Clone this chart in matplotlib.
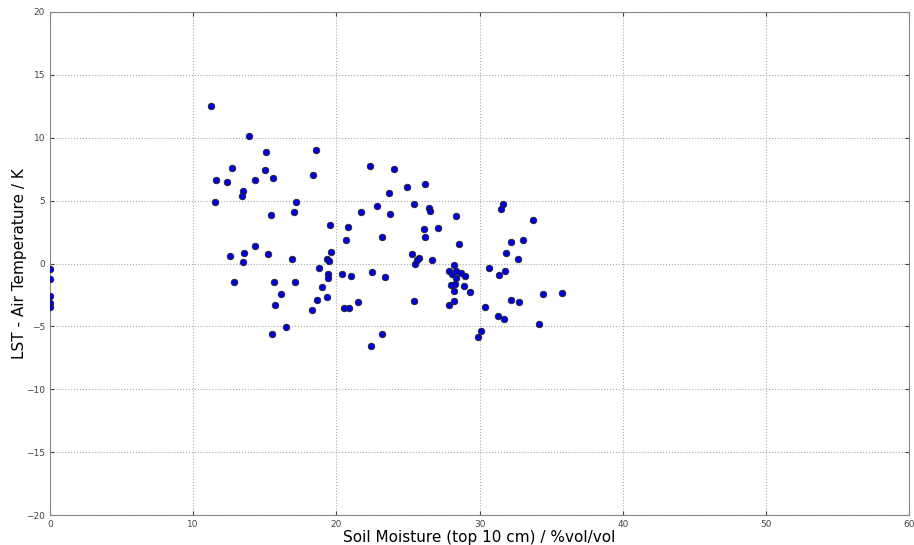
import matplotlib
matplotlib.use('Agg')
import matplotlib.pyplot as plt

# Humidade do solo (%vol/vol) e diferença LST - temperatura do ar (K)
soil_moisture = [
    0.0, 0.0, 0.0, 0.0, 0.0,
    11.26, 11.59, 11.52, 12.71, 12.36, 13.87, 13.48, 13.43, 12.57, 12.85,
    13.55, 13.45, 14.34, 14.31, 15.06, 15.03, 15.57, 15.41, 15.24, 15.62,
    15.73, 15.48, 16.15, 16.48, 16.90, 17.13, 17.06, 17.20, 18.39, 18.60,
    18.79, 18.62, 19.00, 18.32, 19.37, 19.51, 19.53, 19.65, 19.42, 19.39,
    19.37, 20.70, 20.84, 20.42, 21.05, 20.51, 20.89, 21.52, 21.75, 22.36,
    22.50, 22.45, 22.82, 23.17, 23.20, 23.43, 23.71, 23.69, 23.99, 24.90,
    26.22, 25.43, 26.50, 26.57, 27.11, 26.10, 26.17, 25.29, 25.76, 25.64,
    25.48, 26.69, 25.45, 28.32, 28.55, 28.18, 27.85, 28.08, 28.34, 28.67,
    28.95, 28.34, 28.25, 28.03, 28.90, 28.20, 29.34, 28.18, 27.85, 30.07,
    29.86, 30.37, 30.66, 31.38, 31.80, 31.82, 32.22, 33.06, 32.66, 32.19,
    32.78, 31.26, 31.70, 31.66, 31.47, 33.71, 34.45, 35.76, 34.15,
]
lst_minus_air = [
    -0.44, -1.23, -2.56, -3.17, -3.48,
    12.52, 6.64, 4.87, 7.59, 6.46, 10.14, 5.74, 5.34, 0.62, -1.47,
    0.83, 0.12, 1.37, 6.64, 8.87, 7.41, 6.82, 3.88, 0.73, -1.45,
    -3.32, -5.63, -2.40, -5.07, 0.33, -1.45, 4.07, 4.91, 7.01, 9.03,
    -0.33, -2.93, -1.87, -3.72, 0.36, 0.20, 3.06, 0.89, -0.81, -1.15,
    -2.66, 1.84, 2.90, -0.83, -0.99, -3.51, -3.54, -3.06, 4.10, 7.78,
    -0.70, -6.58, 4.55, 2.13, -5.63, -1.07, 3.94, 5.58, 7.49, 6.06,
    6.30, 4.73, 4.44, 4.20, 2.82, 2.72, 2.08, 0.78, 0.44, 0.25,
    -0.04, 0.28, -3.02, 3.75, 1.57, -0.14, -0.60, -0.83, -0.62, -0.78,
    -0.99, -1.13, -1.59, -1.73, -1.81, -2.15, -2.24, -3.02, -3.32, -5.33,
    -5.86, -3.44, -0.36, -0.94, -0.62, 0.83, 1.69, 1.84, 0.36, -2.93,
    -3.06, -4.15, -4.41, 4.73, 4.36, 3.46, -2.43, -2.37, -4.79,
]

fig = plt.figure(figsize=(9.14, 5.45), dpi=100)
ax = fig.add_axes([0.0547, 0.055, 0.94, 0.923])

ax.scatter(soil_moisture, lst_minus_air, s=22, c='#0000e0', edgecolors='#222222',
           linewidths=0.6, zorder=3)

ax.set_xlim(0, 60)
ax.set_ylim(-20, 20)
ax.set_xticks(range(0, 61, 10))
ax.set_yticks(range(-20, 21, 5))
ax.grid(True, color='#aaaaaa', linestyle=':', linewidth=0.8)
ax.tick_params(direction='in', top=True, right=True, labelsize=6.5,
               colors='#444444', length=3)
for s in ax.spines.values():
    s.set_color('#888888')

# rótulos dos eixos
ax.set_xlabel('Soil Moisture (top 10 cm) / %vol/vol', fontsize=11)
ax.set_ylabel('LST - Air Temperature / K', fontsize=11)
ax.xaxis.set_label_coords(0.5, -0.029)
ax.yaxis.set_label_coords(-0.027, 0.5)

fig.savefig('out.png', dpi=100)
